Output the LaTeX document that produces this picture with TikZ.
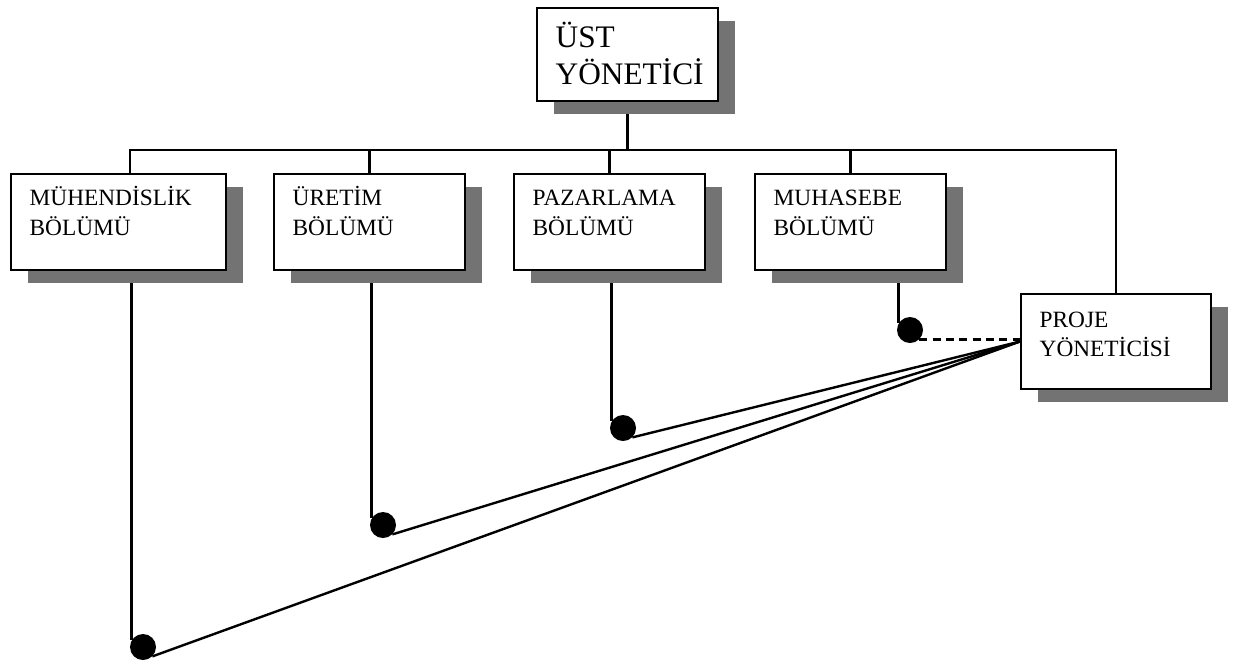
\documentclass[tikz,border=0pt]{standalone}
\usepackage{fontspec}
\setmainfont{Liberation Serif}
\usetikzlibrary{shadows,backgrounds}
\newcommand\deptfont{\fontsize{17.5pt}{22pt}\selectfont}
\newcommand\topfont{\fontsize{23.5pt}{26.25pt}\selectfont}

\begin{document}
\begin{tikzpicture}
[
    x=0.75pt, y=-0.75pt,
    box/.style={draw, line width=1.5pt, fill=white, anchor=north west,
        align=left, font=\deptfont, inner xsep=14pt, inner ysep=3pt,
        minimum height=72pt, text width=115.25pt,
        execute at begin node=\strut,
        drop shadow={shadow xshift=12.75pt, shadow yshift=-9.75pt,
            fill=black!55, opacity=1}},
    padbot/.style={execute at end node={\strut\endgraf\vspace*{#1}}},
    dot/.style={circle, fill=black, inner sep=0pt, minimum size=19.5pt},
    link/.style={line width=1.8pt}
]
    \useasboundingbox (0,0) rectangle (1239,662);

    \node [box, padbot=-6pt, font=\topfont, text width=107.75pt,
        minimum height=69.75pt] (ust) at (536,7) {ÜST\\YÖNETİCİ};
    \node [box, padbot=11pt, text width=133.25pt] (muhendis) at (10,173) {MÜHENDİSLİK\\BÖLÜMÜ};
    \node [box, padbot=11pt] (uretim) at (273,173) {ÜRETİM\\BÖLÜMÜ};
    \node [box, padbot=11pt] (pazar) at (513,173) {PAZARLAMA\\BÖLÜMÜ};
    \node [box, padbot=11pt] (muhasebe) at (754,173) {MUHASEBE\\BÖLÜMÜ};
    \node [box, padbot=8pt, text width=114.5pt,
        minimum height=71.25pt] (proje) at (1020,293) {PROJE\\YÖNETİCİSİ};

    \node [dot] (d1) at (143,647) {};
    \node [dot] (d2) at (383,525) {};
    \node [dot] (d3) at (623,428) {};
    \node [dot] (d4) at (910,330) {};

    \begin{scope}[on background layer]
        \coordinate (bus) at (130,150);
        \draw [link] (ust.south) -- (ust.south |- bus);
        \draw [link] (bus |- muhendis.north) -- (bus) -- (bus -| proje.north) -- (proje.north);
        \foreach \n in {uretim,pazar,muhasebe}
            \draw [link] (\n.north) -- (\n.north |- bus);
        \foreach \n/\d in {muhendis/d1,uretim/d2,pazar/d3,muhasebe/d4}
            \draw [link] (\d.150 |- \n.south) -- (\d.150);
        \foreach \d in {d1,d2,d3}
            \draw [link] (proje.west) -- (\d.south east);
        \draw [link, dash pattern=on 6pt off 4pt] (d4.south east) -- (d4.south east -| proje.west);
    \end{scope}
\end{tikzpicture}
\end{document}
